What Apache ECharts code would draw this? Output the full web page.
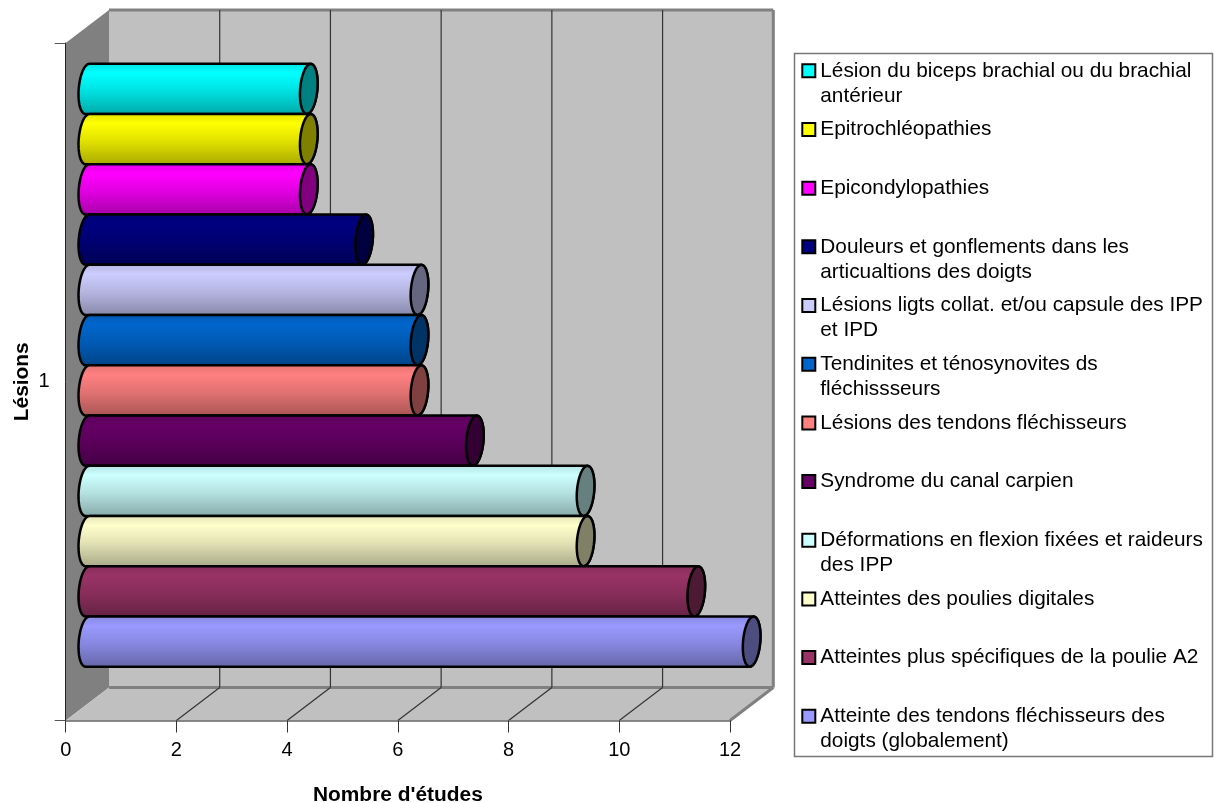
<!DOCTYPE html>
<html>
<head>
<meta charset="utf-8">
<style>html,body{margin:0;padding:0;background:#fff}#chart{width:1221px;height:803px}</style>
<script src="https://cdn.jsdelivr.net/npm/echarts@6/dist/echarts.min.js"></script>
</head>
<body>
<div id="chart"></div>
<script>
// Number of studies per lesion type, listed from the top cylinder down.
const seriesNames = [
  "Lésion du biceps brachial ou du brachial\nantérieur",
  "Epitrochléopathies",
  "Epicondylopathies",
  "Douleurs et gonflements dans les\narticualtions des doigts",
  "Lésions ligts collat. et/ou capsule des IPP\net IPD",
  "Tendinites et ténosynovites ds\nfléchissseurs",
  "Lésions des tendons fléchisseurs",
  "Syndrome du canal carpien",
  "Déformations en flexion fixées et raideurs\ndes IPP",
  "Atteintes des poulies digitales",
  "Atteintes plus spécifiques de la poulie A2",
  "Atteinte des tendons fléchisseurs des\ndoigts (globalement)"
];
const studyCounts = [4, 4, 4, 5, 6, 6, 6, 7, 9, 9, 11, 12];
const seriesColors = [
  "#00FFFF", "#FFFF00", "#FF00FF", "#000080", "#CCCCFF", "#0066CC",
  "#FF8080", "#660066", "#CCFFFF", "#FFFFCC", "#993366", "#9999FF"
];
const categories = ["1"];
const xTicks = [0, 2, 4, 6, 8, 10, 12];

const FONT = '"Liberation Sans", Arial, sans-serif';
// Oblique projection of the chart box: back wall offset from the front plane.
const DEPTH_X = 43.3, DEPTH_Y = -33;
const GAP_SHARE = 0.89;
const CAP_RX = 8.6, TILT = 5 * Math.PI / 180;

function shade(hex, k) {
  const n = parseInt(hex.slice(1), 16);
  const c = [(n >> 16) & 255, (n >> 8) & 255, n & 255].map(v => Math.round(v * k));
  return "rgb(" + c.join(",") + ")";
}

// Points along a tilted ellipse, from angle a0 to a1 (0 = top of the long axis).
function arc(cx, cy, ry, a0, a1, steps) {
  const pts = [];
  for (let i = 0; i <= steps; i++) {
    const t = a0 + (a1 - a0) * i / steps;
    const ex = CAP_RX * Math.sin(t), ey = -ry * Math.cos(t);
    pts.push([
      cx + ex * Math.cos(TILT) - ey * Math.sin(TILT),
      cy + ex * Math.sin(TILT) + ey * Math.cos(TILT)
    ]);
  }
  return pts;
}

function renderCylinder(params, api) {
  const i = params.seriesIndex - 2;
  const end = api.coord([api.value(0), 0]);
  const start = api.coord([0, 0]);
  const band = api.size([0, 1])[1] * GAP_SHARE;
  const slot = band / seriesNames.length;
  const cy = end[1] + DEPTH_Y / 2 - band / 2 + slot * (i + 0.5);
  const ry = slot / 2;
  const x0 = start[0] + DEPTH_X / 2, x1 = end[0] + DEPTH_X / 2;
  const base = seriesColors[i];
  const body = arc(x1, cy, ry, 0, Math.PI, 30)
    .concat(arc(x0, cy, ry, Math.PI, 2 * Math.PI, 30));
  const gradient = new echarts.graphic.LinearGradient(0, 0, 0, 1, [
    { offset: 0, color: shade(base, 0.88) },
    { offset: 0.2, color: shade(base, 1) },
    { offset: 0.55, color: shade(base, 0.88) },
    { offset: 1, color: shade(base, 0.66) }
  ]);
  return {
    type: "group",
    children: [
      {
        type: "polygon",
        shape: { points: body },
        style: { fill: gradient, stroke: "#000", lineWidth: 2.5, lineJoin: "round" }
      },
      {
        type: "polygon",
        shape: { points: arc(x1, cy, ry, 0, 2 * Math.PI, 60) },
        style: { fill: shade(base, 0.5), stroke: "#000", lineWidth: 2.5 }
      }
    ]
  };
}

// Back wall, side wall and floor of the 3D box.
function renderBox(params) {
  const s = params.coordSys;
  const l = s.x, r = s.x + s.width, t = s.y, b = s.y + s.height;
  const dx = DEPTH_X, dy = DEPTH_Y;
  const edge = (x1, y1, x2, y2) => ({
    type: "line",
    shape: { x1, y1, x2, y2 },
    style: { stroke: "#808080", lineWidth: 3 }
  });
  return {
    type: "group",
    children: [
      { type: "polygon", shape: { points: [[l + dx, t + dy], [r + dx, t + dy], [r + dx, b + dy], [l + dx, b + dy]] }, style: { fill: "#C0C0C0" } },
      { type: "polygon", shape: { points: [[l, t], [l + dx, t + dy], [l + dx, b + dy], [l, b]] }, style: { fill: "#808080" } },
      { type: "polygon", shape: { points: [[l, b], [l + dx, b + dy], [r + dx, b + dy], [r, b]] }, style: { fill: "#C0C0C0" } },
      edge(l + dx, t + dy, r + dx, t + dy),
      edge(r + dx, t + dy, r + dx, b + dy),
      edge(l + dx, b + dy, r + dx, b + dy),
      edge(r + dx, b + dy, r, b)
    ]
  };
}

// Gridline running over the floor and up the back wall.
function renderGridline(params, api) {
  const s = params.coordSys;
  const p = api.coord([api.value(0), 0]);
  const x = p[0], b = s.y + s.height, t = s.y;
  if (api.value(0) === 0 || api.value(0) === 12) return null;
  const style = { stroke: "#333", lineWidth: 1.2 };
  return {
    type: "group",
    children: [
      { type: "line", shape: { x1: x, y1: b, x2: x + DEPTH_X, y2: b + DEPTH_Y }, style },
      { type: "line", shape: { x1: x + DEPTH_X, y1: b + DEPTH_Y, x2: x + DEPTH_X, y2: t + DEPTH_Y }, style }
    ]
  };
}

const chart = echarts.init(document.getElementById("chart"), null, { renderer: "canvas" });

const series = [
  { type: "custom", name: "box", z: 0, silent: true, renderItem: renderBox, data: [[0, 0]], encode: { x: 0, y: 1 } },
  { type: "custom", name: "grid", z: 0, silent: true, renderItem: renderGridline, data: xTicks.map(v => [v, 0]), encode: { x: 0, y: 1 } }
];
seriesNames.forEach((name, i) => {
  series.push({
    type: "custom",
    name,
    z: 2,
    silent: true,
    itemStyle: { color: seriesColors[i] },
    renderItem: renderCylinder,
    data: [[studyCounts[i], 0]],
    encode: { x: 0, y: 1 }
  });
});

// Legend entries take three lines (blank, text, text or blank) so the swatch sits on the first text line.
function legendLabel(name) {
  return " \n" + (name.indexOf("\n") >= 0 ? name : name + "\n ");
}

chart.setOption({
  animation: false,
  backgroundColor: "#fff",
  tooltip: { show: false },
  grid: { left: 65.7, top: 43, width: 664.3, height: 677.5, containLabel: false, outerBoundsMode: "none" },
  xAxis: {
    type: "value",
    min: 0,
    max: 12,
    interval: 2,
    z: 1,
    name: "Nombre d'études",
    nameLocation: "middle",
    nameGap: 64,
    nameMoveOverlap: false,
    nameTextStyle: { fontFamily: FONT, fontSize: 20.9, fontWeight: "bold", color: "#000" },
    axisLine: { show: true, lineStyle: { color: "#666", width: 1.5 } },
    axisTick: { show: true, length: 12, lineStyle: { color: "#333", width: 1 } },
    axisLabel: { margin: 20, fontFamily: FONT, fontSize: 20, color: "#000", hideOverlap: false },
    splitLine: { show: false }
  },
  yAxis: {
    type: "category",
    data: categories,
    z: 1,
    name: "Lésions",
    nameLocation: "middle",
    nameGap: 33,
    nameMoveOverlap: false,
    nameTextStyle: { fontFamily: FONT, fontSize: 20.9, fontWeight: "bold", color: "#000" },
    axisLine: { show: true, lineStyle: { color: "#222", width: 1 } },
    axisTick: { show: true, length: 11, lineStyle: { color: "#555", width: 1 } },
    axisLabel: { margin: 16, fontFamily: FONT, fontSize: 20, color: "#000" },
    splitLine: { show: false }
  },
  legend: {
    orient: "vertical",
    left: 801.3,
    top: 33.3,
    padding: 0,
    data: seriesNames,
    selectedMode: false,
    icon: "rect",
    itemWidth: 13,
    itemHeight: 13,
    itemGap: -16.32,
    inactiveColor: "#000",
    itemStyle: { borderColor: "#000", borderWidth: 2 },
    formatter: legendLabel,
    textStyle: {
      fontFamily: FONT,
      fontSize: 20.8,
      lineHeight: 25,
      color: "#000"
    }
  },
  graphic: [
    {
      type: "rect",
      z: -1,
      shape: { x: 794.5, y: 53.5, width: 418, height: 703 },
      style: { fill: "#fff", stroke: "#777", lineWidth: 1.5 }
    }
  ],
  series
});
</script>
</body>
</html>
